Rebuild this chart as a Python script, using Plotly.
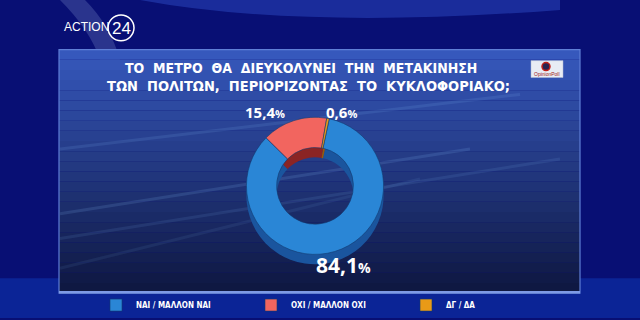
import plotly.graph_objects as go

# ---- data ----
labels = ["ΝΑΙ / ΜΑΛΛΟΝ ΝΑΙ", "ΟΧΙ / ΜΑΛΛΟΝ ΟΧΙ", "ΔΓ / ΔΑ"]
values = [84.1, 15.4, 0.6]
top_colors = ["#2a86d6", "#f2655f", "#e99a17"]
side_colors = ["#1a559e", "#8a2424", "#9a5a08"]
title_lines = ["ΤΟ ΜΕΤΡΟ ΘΑ ΔΙΕΥΚΟΛΥΝΕΙ ΤΗΝ ΜΕΤΑΚΙΝΗΣΗ",
               "ΤΩΝ ΠΟΛΙΤΩΝ, ΠΕΡΙΟΡΙΖΟΝΤΑΣ ΤΟ ΚΥΚΛΟΦΟΡΙΑΚΟ;"]

W, H = 640, 320
def fx(x): return x / W
def fy(y): return 1 - y / H

fig = go.Figure()

# pie geometry (pixels)
cx, cy, r, depth = 315, 187, 69, 10
dom_x = [fx(cx - r), fx(cx + r)]

fig.add_trace(go.Pie(
    labels=labels, values=values, sort=False, direction="clockwise", rotation=12,
    hole=0.56, marker=dict(colors=side_colors, line=dict(width=0)),
    textinfo="none", hoverinfo="skip", showlegend=False,
    domain=dict(x=dom_x, y=[fy(cy + depth + r), fy(cy + depth - r)])))
fig.add_trace(go.Pie(
    labels=labels, values=values, sort=False, direction="clockwise", rotation=12,
    hole=0.56, marker=dict(colors=top_colors, line=dict(width=0.6, color="#123a70")),
    textinfo="none", showlegend=True,
    domain=dict(x=dom_x, y=[fy(cy + r), fy(cy - r)])))

shapes = []
# background bands
shapes.append(dict(type="rect", xref="paper", yref="paper", x0=0, x1=1, y0=fy(320), y1=fy(280),
                   fillcolor="#0b2496", line=dict(width=0), layer="below"))
shapes.append(dict(type="path", xref="paper", yref="paper",
                   path=f"M {fx(60)},{fy(0)} Q {fx(90)},{fy(30)} {fx(100)},{fy(60)} L {fx(120)},{fy(60)} Q {fx(110)},{fy(25)} {fx(85)},{fy(0)} Z",
                   fillcolor="rgba(200,220,255,0.18)", line=dict(width=0), layer="below"))
shapes.append(dict(type="path", xref="paper", yref="paper",
                   path=f"M {fx(140)},{fy(0)} Q {fx(300)},{fy(30)} {fx(560)},{fy(10)} L {fx(560)},{fy(0)} Z",
                   fillcolor="rgba(60,100,230,0.35)", line=dict(width=0), layer="below"))
# panel gradient
n = 24
top_rgb, bot_rgb = (54, 88, 188), (15, 24, 66)
y0p, y1p = 50, 295
for i in range(n):
    t = i / (n - 1)
    c = tuple(int(top_rgb[k] + (bot_rgb[k] - top_rgb[k]) * t) for k in range(3))
    ya = y0p + (y1p - y0p) * i / n
    yb = y0p + (y1p - y0p) * (i + 1) / n
    shapes.append(dict(type="rect", xref="paper", yref="paper", x0=fx(59), x1=fx(580),
                       y0=fy(yb), y1=fy(ya), fillcolor=f"rgb{c}", line=dict(width=0), layer="below"))
# streaks inside panel
for (a, b, c2, d, op) in [(60, 150, 520, 95, 0.12), (60, 215, 470, 150, 0.14),
                          (60, 240, 560, 160, 0.10), (60, 270, 420, 180, 0.08)]:
    shapes.append(dict(type="line", xref="paper", yref="paper", x0=fx(a), y0=fy(b), x1=fx(c2), y1=fy(d),
                       line=dict(color=f"rgba(140,200,255,{op})", width=3), layer="below"))
# panel border
shapes.append(dict(type="rect", xref="paper", yref="paper", x0=fx(59), x1=fx(580), y0=fy(295), y1=fy(50),
                   fillcolor="rgba(0,0,0,0)", line=dict(color="#5f7fd6", width=1.2), layer="below"))
shapes.append(dict(type="line", xref="paper", yref="paper", x0=fx(59), x1=fx(580), y0=fy(294), y1=fy(294),
                   line=dict(color="#7d9ae6", width=2.5), layer="below"))
# logo circle
shapes.append(dict(type="circle", xref="paper", yref="paper", x0=fx(108), x1=fx(134), y0=fy(41), y1=fy(15),
                   line=dict(color="white", width=1.5)))
# opinion poll logo
shapes.append(dict(type="rect", xref="paper", yref="paper", x0=fx(531), x1=fx(563), y0=fy(78), y1=fy(61),
                   fillcolor="#e8ecf4", line=dict(color="#b0b8d0", width=0.5)))
shapes.append(dict(type="circle", xref="paper", yref="paper", x0=fx(542), x1=fx(550), y0=fy(71), y1=fy(63),
                   fillcolor="#2a2450", line=dict(color="#c0201a", width=1.5)))

annotations = []
title_font = dict(family="DejaVu Sans Condensed, DejaVu Sans", size=14, color="white", weight="bold")
for txt, x, y, sz in zip(title_lines, [301, 308], [68, 87], [14, 14.5]):
    f = dict(title_font, size=sz)
    annotations.append(dict(text=txt.replace(" ", "\u00a0\u00a0"), x=fx(x), y=fy(y), xref="paper", yref="paper",
                            showarrow=False, font=f, xanchor="center", yanchor="middle"))

def fmt(v):
    return f"{v:.1f}".replace(".", ",")

label_pos = [(343, 267, 21, 14), (265, 113, 15, 11), (341, 113, 15, 11)]
for v, (x, y, s1, s2) in zip(values, label_pos):
    annotations.append(dict(text=f"{fmt(v)}<span style='font-size:{s2}px'>%</span>", x=fx(x), y=fy(y),
                            xref="paper", yref="paper", showarrow=False, xanchor="center", yanchor="middle",
                            font=dict(family="Open Sans, Lato", size=s1, color="white", weight="bold")))

annotations.append(dict(text="ACTION", x=fx(62), y=fy(27), xref="paper", yref="paper", showarrow=False,
                        xanchor="left", yanchor="middle",
                        font=dict(family="Liberation Sans", size=12, color="white")))
annotations.append(dict(text="24", x=fx(121), y=fy(29), xref="paper", yref="paper", showarrow=False,
                        xanchor="center", yanchor="middle",
                        font=dict(family="Liberation Sans", size=17, color="white")))
annotations.append(dict(text="OpinionPoll", x=fx(547), y=fy(74.5), xref="paper", yref="paper", showarrow=False,
                        xanchor="center", yanchor="middle",
                        font=dict(family="Liberation Sans", size=5, color="#a02020")))

fig.update_layout(
    width=W, height=H, margin=dict(l=0, r=0, t=0, b=0),
    paper_bgcolor="#080f74", plot_bgcolor="rgba(0,0,0,0)",
    shapes=shapes, annotations=annotations,
    legend=dict(orientation="h", x=fx(96), y=fy(307), xanchor="left", yanchor="middle",
                entrywidth=110, itemwidth=30, bgcolor="rgba(0,0,0,0)",
                font=dict(family="DejaVu Sans Condensed, DejaVu Sans", size=8, color="white", weight="bold")),
)

fig.write_html("out.html")
